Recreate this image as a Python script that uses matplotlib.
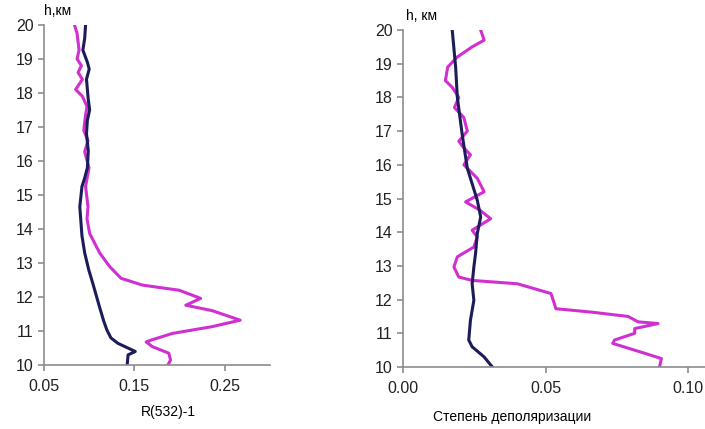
import matplotlib.pyplot as plt

plt.rcParams['font.family'] = ['Liberation Sans', 'DejaVu Sans']

# left panel: R(532)-1 profiles
h_blue_l = [20.0, 19.6, 19.26, 18.9, 18.7, 18.4, 18.1, 17.8, 17.5, 17.2, 16.8, 16.3, 15.8,
            15.5, 15.25, 14.65, 14.26, 13.8, 13.3, 12.8, 12.4, 11.7, 11.3, 11.03, 10.8,
            10.64, 10.4, 10.3, 10.0]
r_blue_l = [0.096, 0.095, 0.093, 0.098, 0.100, 0.097, 0.098, 0.099, 0.1005, 0.098, 0.097,
            0.099, 0.098, 0.095, 0.092, 0.0896, 0.0907, 0.092, 0.095, 0.0995, 0.104, 0.1115,
            0.116, 0.1196, 0.124, 0.1317, 0.151, 0.143, 0.142]

h_mag_l = [20.0, 19.75, 19.26, 19.0, 18.8, 18.6, 18.4, 18.1, 17.9, 17.6, 17.35, 16.9, 16.6,
           16.27, 15.8, 15.25, 14.65, 14.3, 13.87, 13.3, 12.9, 12.55, 12.35, 12.2, 11.96,
           11.76, 11.6, 11.32, 11.13, 10.93, 10.73, 10.68, 10.54, 10.35, 10.15, 10.0]
r_mag_l = [0.0837, 0.0866, 0.0888, 0.0866, 0.0914, 0.0877, 0.0925, 0.085, 0.0925, 0.0976,
           0.096, 0.094, 0.0987, 0.095, 0.0998, 0.096, 0.0987, 0.0976, 0.1005, 0.1115, 0.1225,
           0.1353, 0.159, 0.1995, 0.2233, 0.2068, 0.236, 0.267, 0.236, 0.192, 0.168, 0.163,
           0.170, 0.188, 0.19, 0.187]

# right panel: depolarization
h_blue_r = [20.0, 18.9, 18.0, 16.9, 15.9, 14.95, 14.45, 13.96, 13.37, 12.97, 12.47, 11.98,
            11.39, 10.8, 10.6, 10.3, 10.0]
d_blue_r = [0.0172, 0.0184, 0.019, 0.0207, 0.0225, 0.026, 0.0272, 0.026, 0.0254, 0.0248,
            0.0242, 0.0248, 0.0236, 0.023, 0.0242, 0.0284, 0.0313]

h_mag_r = [20.0, 19.7, 19.5, 19.2, 18.9, 18.5, 18.3, 18.0, 17.7, 17.4, 17.0, 16.7, 16.5,
           16.3, 16.0, 15.6, 15.2, 14.9, 14.65, 14.4, 14.06, 13.86, 13.56, 13.27, 12.97,
           12.67, 12.57, 12.47, 12.18, 11.9, 11.73, 11.63, 11.5, 11.34, 11.29, 11.14, 11.0,
           10.8, 10.7, 10.5, 10.25, 10.0]
d_mag_r = [0.0272, 0.0284, 0.0242, 0.019, 0.0156, 0.0148, 0.0172, 0.0195, 0.018, 0.0213,
           0.0225, 0.0195, 0.0213, 0.0236, 0.0213, 0.026, 0.0284, 0.0219, 0.027, 0.0307,
           0.0242, 0.026, 0.0248, 0.019, 0.0178, 0.0195, 0.0242, 0.0401, 0.0519, 0.053,
           0.0536, 0.066, 0.079, 0.0825, 0.0895, 0.0813, 0.0813, 0.0742, 0.0736, 0.0813,
           0.0907, 0.090]

blue = '#1c1c5a'
magenta = '#d030d0'
grey = '#8c8c8c'

fig = plt.figure(figsize=(7.05, 4.29), dpi=100)
ax1 = fig.add_axes([0.0624, 0.149, 0.3206, 0.793])
ax2 = fig.add_axes([0.572, 0.1445, 0.428, 0.7855])

def style(ax):
    for s in ['top', 'right']:
        ax.spines[s].set_visible(False)
    for s in ['left', 'bottom']:
        ax.spines[s].set_color(grey)
        ax.spines[s].set_linewidth(1.2)
    ax.tick_params(colors=grey, labelcolor='#222222', labelsize=11.5, length=4, width=1.2)
    ax.set_ylim(10, 20)
    ax.set_yticks(range(10, 21))
    ax.tick_params(axis='x', pad=6)

ax1.plot(r_mag_l, h_mag_l, color=magenta, lw=2.2)
ax1.plot(r_blue_l, h_blue_l, color=blue, lw=2.2)
style(ax1)
ax1.set_xlim(0.05, 0.30)
ax1.set_xticks([0.05, 0.15, 0.25])
ax1.set_xticklabels(['0.05', '0.15', '0.25'])
ax1.set_xlabel('R(532)-1', fontsize=10, labelpad=8, x=0.55)
ax1.text(0.0, 1.02, 'h,км', transform=ax1.transAxes, fontsize=10, ha='left', va='bottom')

ax2.plot(d_mag_r, h_mag_r, color=magenta, lw=2.2)
ax2.plot(d_blue_r, h_blue_r, color=blue, lw=2.2)
style(ax2)
ax2.set_xlim(0.0, 0.106)
ax2.set_xticks([0.0, 0.05, 0.10])
ax2.set_xticklabels(['0.00', '0.05', '0.10'])
ax2.set_xlabel('Степень деполяризации', fontsize=10, labelpad=10, x=0.36)
ax2.text(0.01, 1.02, 'h, км', transform=ax2.transAxes, fontsize=10, ha='left', va='bottom')

fig.savefig('out.png', dpi=100)
